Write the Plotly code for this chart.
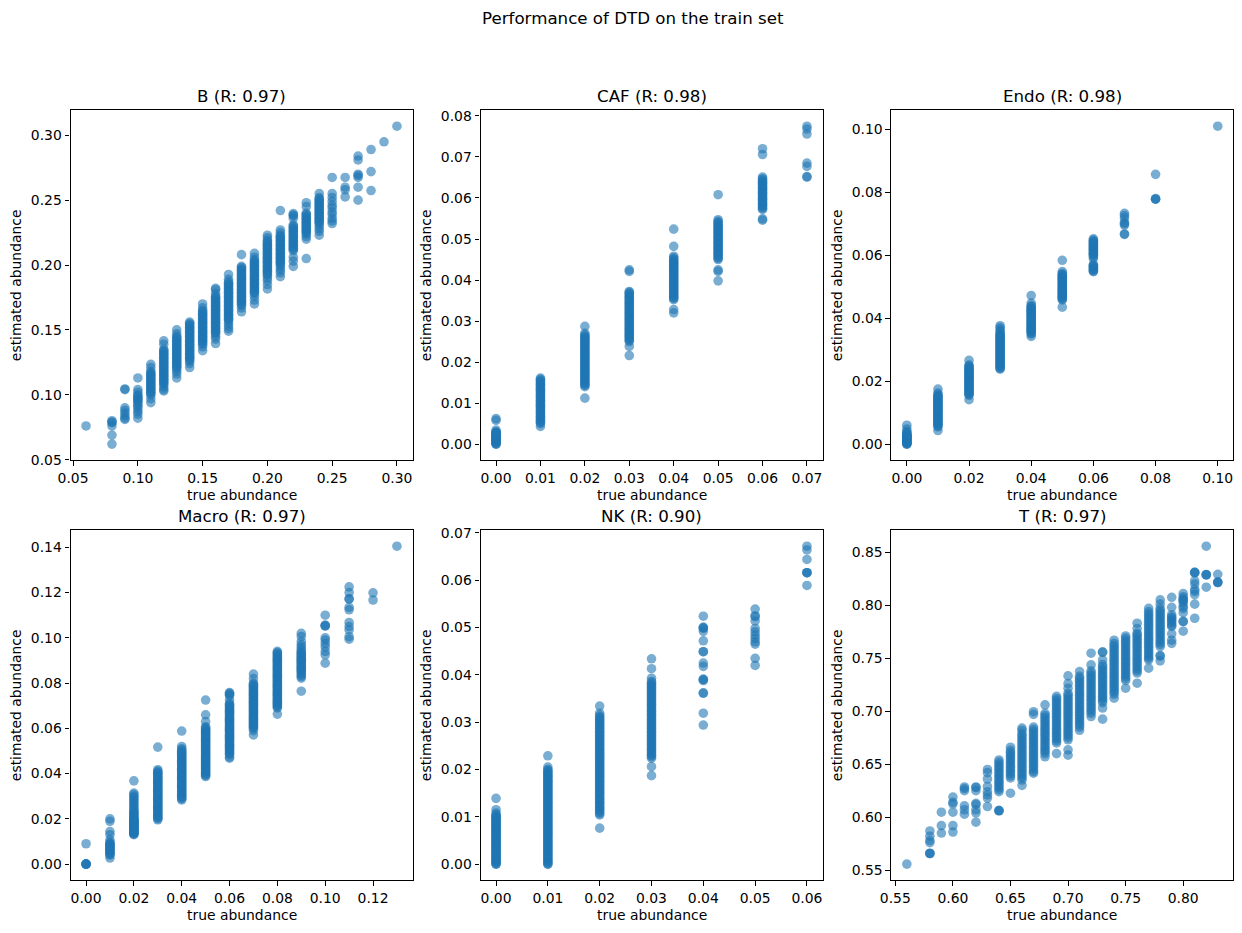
import plotly.graph_objects as go

FIG_TITLE = "Performance of DTD on the train set"
PANEL_NAMES = ["B (R: 0.97)", "CAF (R: 0.98)", "Endo (R: 0.98)",
               "Macro (R: 0.97)", "NK (R: 0.90)", "T (R: 0.97)"]
X_LABEL = "true abundance"
Y_LABEL = "estimated abundance"

# ---- B ----
B_true = [0.06, 0.08, 0.09, 0.10, 0.11, 0.12, 0.13, 0.14, 0.15, 0.16, 0.17, 0.18,
          0.19, 0.20, 0.21, 0.22, 0.23, 0.24, 0.25, 0.26, 0.27, 0.28, 0.29, 0.30]
B_est = [
    [0.076],
    [0.080, 0.079, 0.0785, 0.076, 0.069, 0.062],
    [0.104, 0.1045, 0.090, 0.088, 0.086, 0.084, 0.082, 0.081],
    [0.113, 0.104, 0.102, 0.100, 0.099, 0.098, 0.097, 0.096, 0.095, 0.094, 0.092, 0.091, 0.089, 0.087, 0.085, 0.082],
    [0.1235, 0.121, 0.118, 0.117, 0.116, 0.115, 0.114, 0.113, 0.112, 0.111, 0.110, 0.109, 0.108, 0.107, 0.106, 0.105, 0.104,
     0.103, 0.102, 0.101, 0.100, 0.097, 0.094],
    [0.1416, 0.139, 0.135, 0.134, 0.133, 0.132, 0.131, 0.130, 0.129, 0.128, 0.127, 0.126, 0.125, 0.124, 0.123, 0.122, 0.121,
     0.120, 0.119, 0.118, 0.117, 0.116, 0.115, 0.114, 0.113, 0.112, 0.111, 0.110, 0.109, 0.108, 0.106, 0.104, 0.103],
    [0.150, 0.147, 0.145, 0.144, 0.143, 0.142, 0.141, 0.140, 0.139, 0.138, 0.137, 0.136, 0.135, 0.134, 0.133, 0.132, 0.131,
     0.130, 0.129, 0.128, 0.127, 0.126, 0.125, 0.124, 0.123, 0.122, 0.121, 0.120, 0.118, 0.116, 0.113],
    [0.156, 0.155, 0.154, 0.153, 0.152, 0.151, 0.150, 0.149, 0.148, 0.147, 0.146, 0.145, 0.144, 0.143, 0.142, 0.141, 0.140,
     0.139, 0.138, 0.137, 0.136, 0.135, 0.134, 0.133, 0.132, 0.131, 0.130, 0.129, 0.128, 0.127, 0.126, 0.124, 0.121],
    [0.170, 0.167, 0.165, 0.164, 0.163, 0.162, 0.161, 0.160, 0.159, 0.158, 0.157, 0.156, 0.155, 0.154, 0.153, 0.152, 0.151,
     0.150, 0.149, 0.148, 0.147, 0.146, 0.145, 0.144, 0.143, 0.142, 0.141, 0.140, 0.139, 0.137, 0.134],
    [0.182, 0.181, 0.178, 0.176, 0.175, 0.174, 0.173, 0.172, 0.171, 0.170, 0.169, 0.168, 0.167, 0.166, 0.165, 0.164, 0.163,
     0.162, 0.161, 0.160, 0.159, 0.158, 0.157, 0.156, 0.155, 0.154, 0.153, 0.152, 0.151, 0.150, 0.149, 0.148, 0.147, 0.145, 0.143, 0.1395],
    [0.1927, 0.189, 0.187, 0.186, 0.185, 0.184, 0.183, 0.182, 0.181, 0.180, 0.179, 0.178, 0.177, 0.176, 0.175, 0.174, 0.173,
     0.172, 0.171, 0.170, 0.169, 0.168, 0.167, 0.166, 0.165, 0.164, 0.163, 0.162, 0.161, 0.160, 0.159, 0.158, 0.157, 0.155, 0.153, 0.151, 0.149],
    [0.208, 0.199, 0.198, 0.197, 0.196, 0.195, 0.194, 0.193, 0.192, 0.191, 0.190, 0.189, 0.188, 0.187, 0.186, 0.185, 0.184,
     0.183, 0.182, 0.181, 0.180, 0.179, 0.178, 0.177, 0.176, 0.175, 0.174, 0.173, 0.172, 0.171, 0.170, 0.169, 0.167, 0.164],
    [0.209, 0.206, 0.204, 0.203, 0.202, 0.201, 0.200, 0.199, 0.198, 0.197, 0.196, 0.195, 0.194, 0.193, 0.192, 0.191, 0.190,
     0.189, 0.188, 0.187, 0.186, 0.185, 0.184, 0.183, 0.182, 0.181, 0.180, 0.179, 0.178, 0.176, 0.173, 0.170],
    [0.223, 0.221, 0.219, 0.218, 0.217, 0.216, 0.215, 0.214, 0.213, 0.212, 0.211, 0.210, 0.209, 0.208, 0.207, 0.206, 0.205,
     0.204, 0.203, 0.202, 0.201, 0.200, 0.199, 0.198, 0.197, 0.196, 0.195, 0.194, 0.193, 0.192, 0.190, 0.188, 0.185, 0.1816],
    [0.242, 0.227, 0.225, 0.223, 0.222, 0.221, 0.220, 0.219, 0.218, 0.217, 0.216, 0.215, 0.214, 0.213, 0.212, 0.211, 0.210,
     0.209, 0.208, 0.207, 0.206, 0.205, 0.204, 0.203, 0.202, 0.201, 0.200, 0.198, 0.196, 0.194, 0.191],
    [0.2396, 0.2385, 0.238, 0.236, 0.231, 0.230, 0.229, 0.228, 0.227, 0.226, 0.225, 0.224, 0.223, 0.222, 0.221, 0.220, 0.219,
     0.218, 0.217, 0.216, 0.215, 0.214, 0.213, 0.212, 0.211, 0.206, 0.203, 0.199],
    [0.248, 0.245, 0.240, 0.239, 0.238, 0.237, 0.236, 0.235, 0.234, 0.233, 0.232, 0.231, 0.230, 0.229, 0.228, 0.227, 0.226,
     0.225, 0.224, 0.222, 0.220, 0.205],
    [0.255, 0.252, 0.251, 0.250, 0.249, 0.248, 0.247, 0.246, 0.245, 0.244, 0.243, 0.242, 0.241, 0.240, 0.239, 0.238, 0.237,
     0.236, 0.235, 0.234, 0.233, 0.232, 0.230, 0.228, 0.226, 0.223],
    [0.2675, 0.255, 0.252, 0.249, 0.246, 0.244, 0.241, 0.239, 0.236, 0.234, 0.232],
    [0.2675, 0.260, 0.258, 0.2525],
    [0.284, 0.281, 0.270, 0.269, 0.2675, 0.260, 0.250],
    [0.289, 0.272, 0.2574],
    [0.295],
    [0.307],
]

# ---- CAF ----
CAF_true = [0.00, 0.01, 0.02, 0.03, 0.04, 0.05, 0.06, 0.07]
CAF_est = [
    [0.0, 0.0, 0.0002, 0.0003, 0.0005, 0.0006, 0.0008, 0.0009, 0.0011, 0.0012, 0.0014, 0.0015, 0.0017, 0.0018,
     0.0020, 0.0021, 0.0023, 0.0024, 0.0026, 0.0027, 0.0029, 0.0030, 0.0034, 0.0058, 0.0062],
    [0.0043, 0.0050, 0.0053, 0.0056, 0.0059, 0.0062, 0.0065, 0.0068, 0.0071, 0.0074, 0.0077, 0.0080, 0.0083, 0.0086,
     0.0089, 0.0092, 0.0095, 0.0098, 0.0101, 0.0104, 0.0107, 0.0110, 0.0113, 0.0116, 0.0119, 0.0122, 0.0125, 0.0128,
     0.0131, 0.0134, 0.0137, 0.0140, 0.0143, 0.0146, 0.0149, 0.0152, 0.0155, 0.0158, 0.0161],
    [0.0112, 0.0140, 0.0143, 0.0146, 0.0149, 0.0152, 0.0155, 0.0158, 0.0161, 0.0164, 0.0167, 0.0170, 0.0173, 0.0176,
     0.0179, 0.0182, 0.0185, 0.0188, 0.0191, 0.0194, 0.0197, 0.0200, 0.0203, 0.0206, 0.0209, 0.0212, 0.0215, 0.0218,
     0.0221, 0.0224, 0.0227, 0.0230, 0.0233, 0.0236, 0.0239, 0.0242, 0.0245, 0.0248, 0.0251, 0.0254, 0.0257, 0.0260,
     0.0263, 0.0266, 0.0270, 0.0287],
    [0.0216, 0.0238, 0.0250, 0.0253, 0.0256, 0.0259, 0.0262, 0.0265, 0.0268, 0.0271, 0.0274, 0.0277, 0.0280, 0.0283,
     0.0286, 0.0289, 0.0292, 0.0295, 0.0298, 0.0301, 0.0304, 0.0307, 0.0310, 0.0313, 0.0316, 0.0319, 0.0322, 0.0325,
     0.0328, 0.0331, 0.0334, 0.0337, 0.0340, 0.0343, 0.0346, 0.0349, 0.0352, 0.0355, 0.0358, 0.0361, 0.0364, 0.0367,
     0.0370, 0.0372, 0.0421, 0.0425],
    [0.0320, 0.0328, 0.0352, 0.0355, 0.0358, 0.0361, 0.0364, 0.0367, 0.0370, 0.0373, 0.0376, 0.0379, 0.0382, 0.0385,
     0.0388, 0.0391, 0.0394, 0.0397, 0.0400, 0.0403, 0.0406, 0.0409, 0.0412, 0.0415, 0.0418, 0.0421, 0.0424, 0.0427,
     0.0430, 0.0433, 0.0436, 0.0439, 0.0442, 0.0445, 0.0448, 0.0451, 0.0454, 0.0458, 0.0482, 0.0524],
    [0.0398, 0.0421, 0.0425, 0.0450, 0.0453, 0.0456, 0.0459, 0.0462, 0.0465, 0.0468, 0.0471, 0.0474, 0.0477, 0.0480,
     0.0483, 0.0486, 0.0489, 0.0492, 0.0495, 0.0498, 0.0501, 0.0504, 0.0507, 0.0510, 0.0513, 0.0516, 0.0519, 0.0522,
     0.0525, 0.0528, 0.0531, 0.0534, 0.0537, 0.0540, 0.0543, 0.0547, 0.0608],
    [0.0546, 0.0549, 0.0572, 0.0575, 0.0578, 0.0581, 0.0584, 0.0587, 0.0590, 0.0593, 0.0596, 0.0599, 0.0602, 0.0605,
     0.0608, 0.0611, 0.0614, 0.0617, 0.0620, 0.0623, 0.0626, 0.0629, 0.0632, 0.0635, 0.0638, 0.0641, 0.0644, 0.0647,
     0.0651, 0.0706, 0.0720],
    [0.0651, 0.0652, 0.0677, 0.0685, 0.0756, 0.0768, 0.0775],
]

# ---- Endo ----
ENDO_true = [0.00, 0.01, 0.02, 0.03, 0.04, 0.05, 0.06, 0.07, 0.08, 0.10]
ENDO_est = [
    [0.0, 0.0, 0.0002, 0.0003, 0.0005, 0.0006, 0.0008, 0.0009, 0.0011, 0.0012, 0.0014, 0.0015, 0.0017, 0.0018,
     0.0020, 0.0021, 0.0023, 0.0024, 0.0026, 0.0027, 0.0029, 0.0030, 0.0033, 0.0036, 0.0040, 0.0048, 0.0060],
    [0.0043, 0.0055, 0.0058, 0.0061, 0.0064, 0.0067, 0.0070, 0.0073, 0.0076, 0.0079, 0.0082, 0.0085, 0.0088, 0.0091,
     0.0094, 0.0097, 0.0100, 0.0103, 0.0106, 0.0109, 0.0112, 0.0115, 0.0118, 0.0121, 0.0124, 0.0127, 0.0130, 0.0133,
     0.0136, 0.0139, 0.0142, 0.0145, 0.0148, 0.0151, 0.0154, 0.0157, 0.0162, 0.0175],
    [0.0141, 0.0155, 0.0158, 0.0161, 0.0164, 0.0167, 0.0170, 0.0173, 0.0176, 0.0179, 0.0182, 0.0185, 0.0188, 0.0191,
     0.0194, 0.0197, 0.0200, 0.0203, 0.0206, 0.0209, 0.0212, 0.0215, 0.0218, 0.0221, 0.0224, 0.0227, 0.0230, 0.0233,
     0.0236, 0.0239, 0.0242, 0.0245, 0.0248, 0.0251, 0.0266],
    [0.0238, 0.0241, 0.0244, 0.0247, 0.0250, 0.0253, 0.0256, 0.0259, 0.0262, 0.0265, 0.0268, 0.0271, 0.0274, 0.0277,
     0.0280, 0.0283, 0.0286, 0.0289, 0.0292, 0.0295, 0.0298, 0.0301, 0.0304, 0.0307, 0.0310, 0.0313, 0.0316, 0.0319,
     0.0322, 0.0325, 0.0328, 0.0331, 0.0334, 0.0337, 0.0340, 0.0343, 0.0346, 0.0349, 0.0352, 0.0358, 0.0364, 0.0370, 0.0376],
    [0.0342, 0.0350, 0.0353, 0.0356, 0.0359, 0.0362, 0.0365, 0.0368, 0.0371, 0.0374, 0.0377, 0.0380, 0.0383, 0.0386,
     0.0389, 0.0392, 0.0395, 0.0398, 0.0401, 0.0404, 0.0407, 0.0410, 0.0413, 0.0416, 0.0419, 0.0422, 0.0425, 0.0428,
     0.0431, 0.0434, 0.0437, 0.0440, 0.0448, 0.0472],
    [0.0435, 0.0458, 0.0461, 0.0464, 0.0467, 0.0470, 0.0473, 0.0476, 0.0479, 0.0482, 0.0485, 0.0488, 0.0491, 0.0494,
     0.0497, 0.0500, 0.0503, 0.0506, 0.0509, 0.0512, 0.0515, 0.0518, 0.0521, 0.0524, 0.0527, 0.0530, 0.0533, 0.0536,
     0.0539, 0.0542, 0.0548, 0.0584],
    [0.0548, 0.0550, 0.0553, 0.0556, 0.0558, 0.0562, 0.0565, 0.0568, 0.0570, 0.0590, 0.0595, 0.0600, 0.0603, 0.0606,
     0.0609, 0.0612, 0.0615, 0.0618, 0.0621, 0.0624, 0.0627, 0.0630, 0.0633, 0.0636, 0.0639, 0.0642, 0.0645, 0.0648, 0.0652],
    [0.0666, 0.0668, 0.0696, 0.0700, 0.0704, 0.0718, 0.0726, 0.0733],
    [0.0778, 0.0778, 0.0780, 0.0857],
    [0.1010],
]

# ---- Macro ----
MACRO_true = [0.00, 0.01, 0.02, 0.03, 0.04, 0.05, 0.06, 0.07, 0.08, 0.09, 0.10, 0.11, 0.12, 0.13]
MACRO_est = [
    [0.0, 0.0, 0.0, 0.0, 0.0, 0.0090],
    [0.0027, 0.0040, 0.0044, 0.0048, 0.0052, 0.0056, 0.0060, 0.0064, 0.0068, 0.0072, 0.0076, 0.0080, 0.0084, 0.0088,
     0.0092, 0.0096, 0.0107, 0.0130, 0.0144, 0.0189, 0.0200],
    [0.0130, 0.0133, 0.0135, 0.0138, 0.0140, 0.0143, 0.0145, 0.0148, 0.0150, 0.0153, 0.0155, 0.0158, 0.0160, 0.0163,
     0.0165, 0.0168, 0.0170, 0.0173, 0.0175, 0.0178, 0.0180, 0.0183, 0.0185, 0.0188, 0.0190, 0.0193, 0.0195, 0.0198,
     0.0200, 0.0205, 0.0210, 0.0215, 0.0220, 0.0225, 0.0230, 0.0235, 0.0240, 0.0248, 0.0255, 0.0263, 0.0270, 0.0278,
     0.0285, 0.0293, 0.0300, 0.0307, 0.0314, 0.0368],
    [0.0196, 0.0201, 0.0206, 0.0211, 0.0216, 0.0221, 0.0226, 0.0231, 0.0236, 0.0241, 0.0246, 0.0251, 0.0256, 0.0261,
     0.0266, 0.0271, 0.0276, 0.0281, 0.0286, 0.0291, 0.0296, 0.0301, 0.0306, 0.0311, 0.0316, 0.0321, 0.0326, 0.0331,
     0.0336, 0.0341, 0.0346, 0.0351, 0.0356, 0.0361, 0.0366, 0.0371, 0.0376, 0.0381, 0.0386, 0.0391, 0.0396, 0.0401,
     0.0406, 0.0411, 0.0417, 0.0517],
    [0.0284, 0.0289, 0.0294, 0.0299, 0.0304, 0.0309, 0.0314, 0.0319, 0.0324, 0.0329, 0.0334, 0.0339, 0.0344, 0.0349,
     0.0354, 0.0359, 0.0364, 0.0369, 0.0374, 0.0379, 0.0384, 0.0389, 0.0394, 0.0399, 0.0404, 0.0409, 0.0414, 0.0419,
     0.0424, 0.0429, 0.0434, 0.0439, 0.0444, 0.0449, 0.0454, 0.0459, 0.0464, 0.0469, 0.0474, 0.0479, 0.0484, 0.0489,
     0.0494, 0.0499, 0.0504, 0.0510, 0.0520, 0.0588],
    [0.0387, 0.0392, 0.0397, 0.0402, 0.0407, 0.0412, 0.0417, 0.0422, 0.0427, 0.0432, 0.0437, 0.0442, 0.0447, 0.0452,
     0.0457, 0.0462, 0.0467, 0.0472, 0.0477, 0.0482, 0.0487, 0.0492, 0.0497, 0.0502, 0.0507, 0.0512, 0.0517, 0.0522,
     0.0527, 0.0532, 0.0537, 0.0542, 0.0547, 0.0552, 0.0557, 0.0562, 0.0567, 0.0572, 0.0577, 0.0582, 0.0587, 0.0592,
     0.0597, 0.0602, 0.0607, 0.0630, 0.0660, 0.0725],
    [0.0468, 0.0474, 0.0485, 0.0490, 0.0495, 0.0500, 0.0505, 0.0510, 0.0515, 0.0520, 0.0525, 0.0530, 0.0535, 0.0540,
     0.0545, 0.0550, 0.0555, 0.0560, 0.0565, 0.0570, 0.0575, 0.0580, 0.0585, 0.0590, 0.0595, 0.0600, 0.0605, 0.0610,
     0.0615, 0.0620, 0.0625, 0.0630, 0.0635, 0.0640, 0.0645, 0.0650, 0.0655, 0.0660, 0.0665, 0.0670, 0.0675, 0.0680,
     0.0685, 0.0690, 0.0695, 0.0700, 0.0705, 0.0710, 0.0726, 0.0745, 0.0750, 0.0755, 0.0758],
    [0.0571, 0.0590, 0.0600, 0.0605, 0.0610, 0.0615, 0.0620, 0.0625, 0.0630, 0.0635, 0.0640, 0.0645, 0.0650, 0.0655,
     0.0660, 0.0665, 0.0670, 0.0675, 0.0680, 0.0685, 0.0690, 0.0695, 0.0700, 0.0705, 0.0710, 0.0715, 0.0720, 0.0725,
     0.0730, 0.0735, 0.0740, 0.0745, 0.0750, 0.0755, 0.0760, 0.0765, 0.0770, 0.0775, 0.0780, 0.0785, 0.0790, 0.0795,
     0.0800, 0.0820, 0.0840],
    [0.0663, 0.0690, 0.0695, 0.0700, 0.0705, 0.0710, 0.0715, 0.0720, 0.0725, 0.0730, 0.0735, 0.0740, 0.0745, 0.0750,
     0.0755, 0.0760, 0.0765, 0.0770, 0.0775, 0.0780, 0.0785, 0.0790, 0.0795, 0.0800, 0.0805, 0.0810, 0.0815, 0.0820,
     0.0825, 0.0830, 0.0835, 0.0840, 0.0845, 0.0850, 0.0855, 0.0860, 0.0865, 0.0870, 0.0875, 0.0880, 0.0885, 0.0890,
     0.0895, 0.0900, 0.0905, 0.0910, 0.0915, 0.0920, 0.0925, 0.0930, 0.0935, 0.0940],
    [0.0764, 0.0822, 0.0829, 0.0836, 0.0843, 0.0850, 0.0855, 0.0860, 0.0865, 0.0870, 0.0875, 0.0880, 0.0885, 0.0890,
     0.0895, 0.0900, 0.0905, 0.0910, 0.0915, 0.0920, 0.0925, 0.0930, 0.0935, 0.0940, 0.0950, 0.0960, 0.0970, 0.0984,
     0.1006, 0.1020],
    [0.0888, 0.0925, 0.0940, 0.0960, 0.0975, 0.0990, 0.1000, 0.1053, 0.1053, 0.1056, 0.1100],
    [0.0994, 0.1005, 0.1035, 0.1050, 0.1068, 0.1124, 0.1135, 0.1172, 0.1172, 0.1200, 0.1225],
    [0.1167, 0.1199],
    [0.1405],
]

# ---- NK ----
NK_true = [0.00, 0.01, 0.02, 0.03, 0.04, 0.05, 0.06]
NK_est = [
    [0.0, 0.0, 0.0002, 0.0004, 0.0006, 0.0008, 0.0010, 0.0012, 0.0014, 0.0016, 0.0018, 0.0020, 0.0022, 0.0024, 0.0026,
     0.0028, 0.0030, 0.0032, 0.0034, 0.0036, 0.0038, 0.0040, 0.0042, 0.0044, 0.0046, 0.0048, 0.0050, 0.0052, 0.0054,
     0.0056, 0.0058, 0.0060, 0.0062, 0.0064, 0.0066, 0.0068, 0.0070, 0.0072, 0.0074, 0.0076, 0.0078, 0.0080, 0.0082,
     0.0084, 0.0086, 0.0088, 0.0090, 0.0092, 0.0094, 0.0096, 0.0098, 0.0100, 0.0102, 0.0104, 0.0108, 0.0115, 0.0139],
    [0.0, 0.0, 0.0003, 0.0005, 0.0008, 0.0010, 0.0013, 0.0015, 0.0018, 0.0020, 0.0023, 0.0025, 0.0028, 0.0030, 0.0033,
     0.0035, 0.0038, 0.0040, 0.0043, 0.0045, 0.0048, 0.0050, 0.0053, 0.0055, 0.0058, 0.0060, 0.0063, 0.0065, 0.0068,
     0.0070, 0.0073, 0.0075, 0.0078, 0.0080, 0.0083, 0.0085, 0.0088, 0.0090, 0.0093, 0.0095, 0.0098, 0.0100, 0.0103,
     0.0105, 0.0108, 0.0110, 0.0113, 0.0115, 0.0118, 0.0120, 0.0123, 0.0125, 0.0128, 0.0130, 0.0133, 0.0135, 0.0138,
     0.0140, 0.0143, 0.0145, 0.0148, 0.0150, 0.0153, 0.0155, 0.0158, 0.0160, 0.0163, 0.0165, 0.0168, 0.0170, 0.0173,
     0.0175, 0.0178, 0.0180, 0.0183, 0.0185, 0.0188, 0.0190, 0.0193, 0.0195, 0.0198, 0.0200, 0.0205, 0.0229],
    [0.0076, 0.0104, 0.0107, 0.0110, 0.0113, 0.0116, 0.0119, 0.0122, 0.0125, 0.0128, 0.0131, 0.0134, 0.0137, 0.0140,
     0.0143, 0.0146, 0.0149, 0.0152, 0.0155, 0.0158, 0.0161, 0.0164, 0.0167, 0.0170, 0.0173, 0.0176, 0.0179, 0.0182,
     0.0185, 0.0188, 0.0191, 0.0194, 0.0197, 0.0200, 0.0203, 0.0206, 0.0209, 0.0212, 0.0215, 0.0218, 0.0221, 0.0224,
     0.0227, 0.0230, 0.0233, 0.0236, 0.0239, 0.0242, 0.0245, 0.0248, 0.0251, 0.0254, 0.0257, 0.0260, 0.0263, 0.0266,
     0.0269, 0.0272, 0.0275, 0.0278, 0.0281, 0.0284, 0.0287, 0.0290, 0.0293, 0.0296, 0.0299, 0.0302, 0.0305, 0.0308,
     0.0311, 0.0314, 0.0319, 0.0334],
    [0.0187, 0.0206, 0.0224, 0.0227, 0.0230, 0.0233, 0.0236, 0.0239, 0.0242, 0.0245, 0.0248, 0.0251, 0.0254, 0.0257,
     0.0260, 0.0263, 0.0266, 0.0269, 0.0272, 0.0275, 0.0278, 0.0281, 0.0284, 0.0287, 0.0290, 0.0293, 0.0296, 0.0299,
     0.0302, 0.0305, 0.0308, 0.0311, 0.0314, 0.0317, 0.0320, 0.0323, 0.0326, 0.0329, 0.0332, 0.0335, 0.0338, 0.0341,
     0.0344, 0.0347, 0.0350, 0.0353, 0.0356, 0.0359, 0.0362, 0.0365, 0.0368, 0.0371, 0.0374, 0.0377, 0.0380, 0.0383,
     0.0386, 0.0393, 0.0413, 0.0434],
    [0.0294, 0.0319, 0.0361, 0.0362, 0.0388, 0.0390, 0.0391, 0.0418, 0.0425, 0.0449, 0.0449, 0.0472,
     0.0492, 0.0499, 0.0499, 0.0501, 0.0524],
    [0.0420, 0.0435, 0.0465, 0.0470, 0.0477, 0.0484, 0.0491, 0.0498, 0.0514, 0.0523, 0.0525, 0.0539],
    [0.0589, 0.0616, 0.0616, 0.0616, 0.0644, 0.0664, 0.0672],
]

# ---- T ----
T_true = [0.56, 0.58, 0.59, 0.60, 0.61, 0.62, 0.63, 0.64, 0.65, 0.66, 0.67, 0.68, 0.69, 0.70,
          0.71, 0.72, 0.73, 0.74, 0.75, 0.76, 0.77, 0.78, 0.79, 0.80, 0.81, 0.82, 0.83]
T_est = [
    [0.5557],
    [0.5657, 0.5657, 0.566, 0.576, 0.578, 0.582, 0.587],
    [0.585, 0.592, 0.6047],
    [0.586, 0.592, 0.6047, 0.6126, 0.614, 0.619],
    [0.6028, 0.607, 0.6107, 0.625, 0.627, 0.6285],
    [0.5953, 0.604, 0.607, 0.612, 0.613, 0.625, 0.628, 0.6285],
    [0.610, 0.618, 0.621, 0.624, 0.629, 0.636, 0.642, 0.645],
    [0.606, 0.606, 0.6065, 0.624, 0.626, 0.628, 0.630, 0.632, 0.634, 0.636, 0.638, 0.640, 0.642, 0.644, 0.646, 0.648, 0.650, 0.652, 0.654],
    [0.6226, 0.637, 0.639, 0.641, 0.643, 0.645, 0.647, 0.649, 0.651, 0.653, 0.655, 0.657, 0.659, 0.661, 0.663, 0.666],
    [0.630, 0.635, 0.637, 0.639, 0.641, 0.643, 0.645, 0.647, 0.649, 0.651, 0.653, 0.655, 0.657, 0.659, 0.661, 0.663, 0.665, 0.667, 0.669, 0.671, 0.673, 0.675, 0.677, 0.679, 0.682, 0.684],
    [0.6415, 0.643, 0.645, 0.647, 0.649, 0.651, 0.653, 0.655, 0.657, 0.659, 0.661, 0.663, 0.665, 0.667, 0.669, 0.671, 0.673, 0.675, 0.677, 0.679, 0.681, 0.683, 0.685, 0.697, 0.6995],
    [0.657, 0.660, 0.662, 0.664, 0.666, 0.668, 0.670, 0.672, 0.674, 0.676, 0.678, 0.680, 0.682, 0.684, 0.686, 0.688, 0.690, 0.692, 0.694, 0.696, 0.698, 0.706],
    [0.660, 0.670, 0.672, 0.674, 0.676, 0.678, 0.680, 0.682, 0.684, 0.686, 0.688, 0.690, 0.692, 0.694, 0.696, 0.698, 0.700, 0.702, 0.704, 0.706, 0.708, 0.710, 0.712, 0.714],
    [0.6585, 0.6635, 0.673, 0.675, 0.677, 0.679, 0.681, 0.683, 0.685, 0.687, 0.689, 0.691, 0.693, 0.695, 0.697, 0.699, 0.701, 0.703, 0.705, 0.707, 0.709, 0.711, 0.713, 0.715, 0.717,
     0.7217, 0.726, 0.7333],
    [0.682, 0.685, 0.687, 0.689, 0.691, 0.693, 0.695, 0.697, 0.699, 0.701, 0.703, 0.705, 0.707, 0.709, 0.711, 0.713, 0.715, 0.717, 0.719, 0.721, 0.723, 0.725, 0.727, 0.729, 0.731, 0.733, 0.7374],
    [0.695, 0.698, 0.700, 0.702, 0.704, 0.706, 0.708, 0.710, 0.712, 0.714, 0.716, 0.718, 0.720, 0.722, 0.724, 0.726, 0.728, 0.730, 0.732, 0.734, 0.736, 0.738, 0.7437, 0.7547],
    [0.6925, 0.703, 0.708, 0.710, 0.712, 0.714, 0.716, 0.718, 0.720, 0.722, 0.724, 0.726, 0.728, 0.730, 0.732, 0.734, 0.736, 0.738, 0.740, 0.742, 0.744, 0.7484, 0.7557, 0.7557],
    [0.7123, 0.716, 0.718, 0.720, 0.722, 0.724, 0.726, 0.728, 0.730, 0.732, 0.734, 0.736, 0.738, 0.740, 0.742, 0.744, 0.746, 0.748, 0.750, 0.752, 0.754, 0.756, 0.758, 0.760, 0.762, 0.764, 0.767],
    [0.7217, 0.729, 0.731, 0.733, 0.735, 0.737, 0.739, 0.741, 0.743, 0.745, 0.747, 0.749, 0.751, 0.753, 0.755, 0.757, 0.759, 0.761, 0.763, 0.765, 0.767, 0.769, 0.771],
    [0.7264, 0.736, 0.738, 0.740, 0.742, 0.744, 0.746, 0.748, 0.750, 0.752, 0.754, 0.756, 0.758, 0.760, 0.762, 0.764, 0.766, 0.768, 0.770, 0.772, 0.7736, 0.778, 0.783],
    [0.7406, 0.7485, 0.750, 0.752, 0.754, 0.756, 0.758, 0.760, 0.762, 0.764, 0.766, 0.768, 0.770, 0.772, 0.774, 0.776, 0.778, 0.780, 0.782, 0.784, 0.786, 0.788, 0.790, 0.792, 0.794, 0.797],
    [0.7475, 0.752, 0.7525, 0.761, 0.763, 0.765, 0.767, 0.769, 0.771, 0.773, 0.775, 0.777, 0.779, 0.781, 0.783, 0.785, 0.787, 0.789, 0.791, 0.793, 0.795, 0.797, 0.801, 0.805],
    [0.764, 0.767, 0.773, 0.780, 0.781, 0.783, 0.785, 0.786, 0.788, 0.789, 0.791, 0.798, 0.8075],
    [0.7755, 0.7845, 0.7848, 0.793, 0.797, 0.799, 0.802, 0.804, 0.805, 0.806, 0.808, 0.811],
    [0.7877, 0.801, 0.810, 0.813, 0.815, 0.820, 0.823, 0.831, 0.831, 0.8305],
    [0.817, 0.8286, 0.8286, 0.829, 0.8557],
    [0.8214, 0.8214, 0.822, 0.8292],
]

# ---- tick labels ----
B_xticks = ["0.05", "0.10", "0.15", "0.20", "0.25", "0.30"]
B_yticks = ["0.05", "0.10", "0.15", "0.20", "0.25", "0.30"]
CAF_xticks = ["0.00", "0.01", "0.02", "0.03", "0.04", "0.05", "0.06", "0.07"]
CAF_yticks = ["0.00", "0.01", "0.02", "0.03", "0.04", "0.05", "0.06", "0.07", "0.08"]
ENDO_xticks = ["0.00", "0.02", "0.04", "0.06", "0.08", "0.10"]
ENDO_yticks = ["0.00", "0.02", "0.04", "0.06", "0.08", "0.10"]
MACRO_xticks = ["0.00", "0.02", "0.04", "0.06", "0.08", "0.10", "0.12"]
MACRO_yticks = ["0.00", "0.02", "0.04", "0.06", "0.08", "0.10", "0.12", "0.14"]
NK_xticks = ["0.00", "0.01", "0.02", "0.03", "0.04", "0.05", "0.06"]
NK_yticks = ["0.00", "0.01", "0.02", "0.03", "0.04", "0.05", "0.06", "0.07"]
T_xticks = ["0.55", "0.60", "0.65", "0.70", "0.75", "0.80"]
T_yticks = ["0.55", "0.60", "0.65", "0.70", "0.75", "0.80", "0.85"]

PANELS = [
    (B_true, B_est, B_xticks, B_yticks),
    (CAF_true, CAF_est, CAF_xticks, CAF_yticks),
    (ENDO_true, ENDO_est, ENDO_xticks, ENDO_yticks),
    (MACRO_true, MACRO_est, MACRO_xticks, MACRO_yticks),
    (NK_true, NK_est, NK_xticks, NK_yticks),
    (T_true, T_est, T_xticks, T_yticks),
]

W, H = 1242, 933
LEFTS = [70.5, 480.5, 891.3]
PLOT_W = 342.0
TOPS = [110.3, 530.3]
PLOT_H = 349.7
YLABEL_X = [16.0, 426.0, 837.0]
FONT = "DejaVu Sans"
TXT = dict(family=FONT, size=13.9, color="black")
TITLE = dict(family=FONT, size=16.67, color="black")


def padded(vals):
    lo, hi = min(vals), max(vals)
    pad = (hi - lo) * 0.05
    return [lo - pad, hi + pad]


def paper_text(text, px, py, font, angle=0, xanchor="center", yanchor="middle"):
    return dict(text=text, xref="paper", yref="paper", x=px / W, y=1 - py / H,
                xanchor=xanchor, yanchor=yanchor, showarrow=False, font=font,
                textangle=angle, borderpad=0, borderwidth=0)


fig = go.Figure()
annotations = []
for i, (true_vals, est_cols, xticks, yticks) in enumerate(PANELS):
    xs, ys = [], []
    for t, col in zip(true_vals, est_cols):
        for v in col:
            xs.append(t)
            ys.append(v)
    suffix = "" if i == 0 else str(i + 1)
    fig.add_trace(go.Scatter(
        x=xs, y=ys, mode="markers", showlegend=False,
        xaxis="x" + suffix, yaxis="y" + suffix,
        marker=dict(size=9.6, color="#1f77b4", opacity=0.6, line=dict(width=0)),
    ))
    col_i, row_i = i % 3, i // 3
    x0 = LEFTS[col_i]
    y0 = TOPS[row_i]
    common = dict(
        showgrid=False, zeroline=False, showline=True, mirror=True, automargin=False,
        linecolor="black", linewidth=1.1, ticks="outside", ticklen=4.9, tickwidth=1.1,
        tickcolor="black", tickfont=TXT, tickmode="array",
    )
    fig.update_layout({
        "xaxis" + suffix: dict(
            common,
            domain=[x0 / W, (x0 + PLOT_W) / W],
            anchor="y" + suffix,
            range=padded(xs),
            tickvals=[float(t) for t in xticks], ticktext=xticks,
        ),
        "yaxis" + suffix: dict(
            common,
            domain=[1 - (y0 + PLOT_H) / H, 1 - y0 / H],
            anchor="x" + suffix,
            range=padded(ys),
            tickvals=[float(t) for t in yticks], ticktext=yticks,
        ),
    })
    annotations.append(paper_text(PANEL_NAMES[i], x0 + PLOT_W / 2, y0 - 13.8, TITLE))
    annotations.append(paper_text(X_LABEL, x0 + PLOT_W / 2, y0 + PLOT_H + 35, TXT))
    annotations.append(paper_text(Y_LABEL, YLABEL_X[col_i], y0 + PLOT_H / 2, TXT, angle=-90))

annotations.append(paper_text(FIG_TITLE, 632.5, 18, TITLE))

fig.update_layout(
    width=W, height=H, autosize=False,
    margin=dict(l=0, r=0, t=0, b=0),
    paper_bgcolor="white", plot_bgcolor="white",
    font=dict(family=FONT),
    annotations=annotations,
)
fig.write_html("out.html", config={"displayModeBar": False},
               post_script="document.body.style.margin='0';")
